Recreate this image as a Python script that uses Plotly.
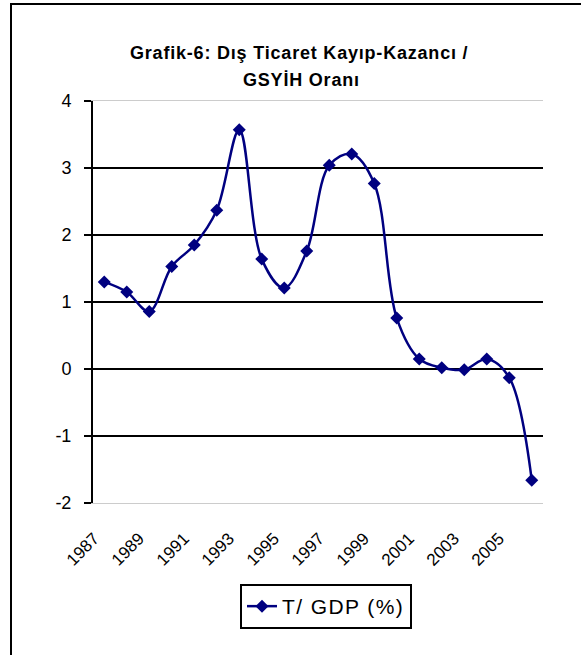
import plotly.graph_objects as go

years = [str(y) for y in range(1987, 2007)]
values = [1.30, 1.15, 0.86, 1.53, 1.85, 2.37, 3.57, 1.64, 1.21, 1.76,
          3.04, 3.21, 2.77, 0.76, 0.15, 0.02, -0.01, 0.15, -0.13, -1.66]
tick_years = years[::2]
y_ticks = [-2, -1, 0, 1, 2, 3, 4]
y_ticktext = ["-2", "-1", "0", "1", "2", "3", "4"]
series_name = "T/ GDP (%)"
title_line1 = "Grafik-6: Dış Ticaret Kayıp-Kazancı /"
title_line2 = "GSYİH Oranı"

W, H = 581, 655
L, R, T, B = 93, 38, 101, 152
pw, ph = W - L - R, H - T - B

def px_x(p):
    return (p - L) / pw

def px_y(p):
    return (H - B - p) / ph

navy = "#000080"
font_family = "Liberation Sans, Arial, sans-serif"
title_style = "letter-spacing:0.8px"
pad = "\u00a0\u00a0\u00a0"

fig = go.Figure()
fig.add_trace(go.Scatter(
    x=years, y=values,
    name="<span style='letter-spacing:1.4px'>" + series_name + "</span>",
    mode="lines+markers",
    line=dict(color=navy, width=2.5, shape="spline", smoothing=1.0),
    marker=dict(symbol="diamond", size=10, color=navy),
))

fig.update_layout(
    width=W, height=H,
    margin=dict(l=L, r=R, t=T, b=B, pad=0),
    paper_bgcolor="white", plot_bgcolor="white",
    font=dict(family=font_family, color="black"),
    showlegend=True,
    legend=dict(
        orientation="h", x=px_x(326), xanchor="center", y=px_y(584), yanchor="top",
        bordercolor="black", borderwidth=2, bgcolor="white",
        font=dict(size=21, family=font_family, color="black"),
    ),
    xaxis=dict(
        type="category", categoryorder="array", categoryarray=years,
        range=[-0.5, 19.5], tickmode="array", tickvals=tick_years,
        ticktext=[t + pad for t in tick_years],
        tickangle=-45, tickfont=dict(size=17, family=font_family, color="black"),
        showgrid=False, showline=True, linecolor="#cccccc", linewidth=1, mirror=True,
        ticks="", zeroline=False, ticklabelstandoff=8,
    ),
    yaxis=dict(
        range=[-2, 4], tickmode="array", tickvals=y_ticks, ticktext=y_ticktext,
        tickfont=dict(size=18, family=font_family, color="black"),
        showgrid=True, gridcolor="black", gridwidth=2,
        showline=True, linecolor="black", linewidth=2,
        ticks="outside", ticklen=7, tickwidth=2, tickcolor="black",
        zeroline=False, ticklabelstandoff=9,
    ),
    annotations=[
        dict(text="<b><span style='" + title_style + "'>" + title_line1 + "</span></b>",
             xref="paper", yref="paper",
             x=px_x(299), y=px_y(53), xanchor="center", yanchor="middle",
             showarrow=False, font=dict(size=18, family=font_family, color="black")),
        dict(text="<b><span style='" + title_style + "'>" + title_line2 + "</span></b>",
             xref="paper", yref="paper",
             x=px_x(301), y=px_y(80), xanchor="center", yanchor="middle",
             showarrow=False, font=dict(size=18, family=font_family, color="black")),
    ],
    shapes=[
        dict(type="rect", xref="paper", yref="paper",
             x0=px_x(11), x1=px_x(600), y0=px_y(670), y1=px_y(4),
             line=dict(color="black", width=2), fillcolor="rgba(0,0,0,0)", layer="below"),
    ],
)

fig.write_html("out.html", config={"displayModeBar": False},
               post_script="document.body.style.margin='0px';")
